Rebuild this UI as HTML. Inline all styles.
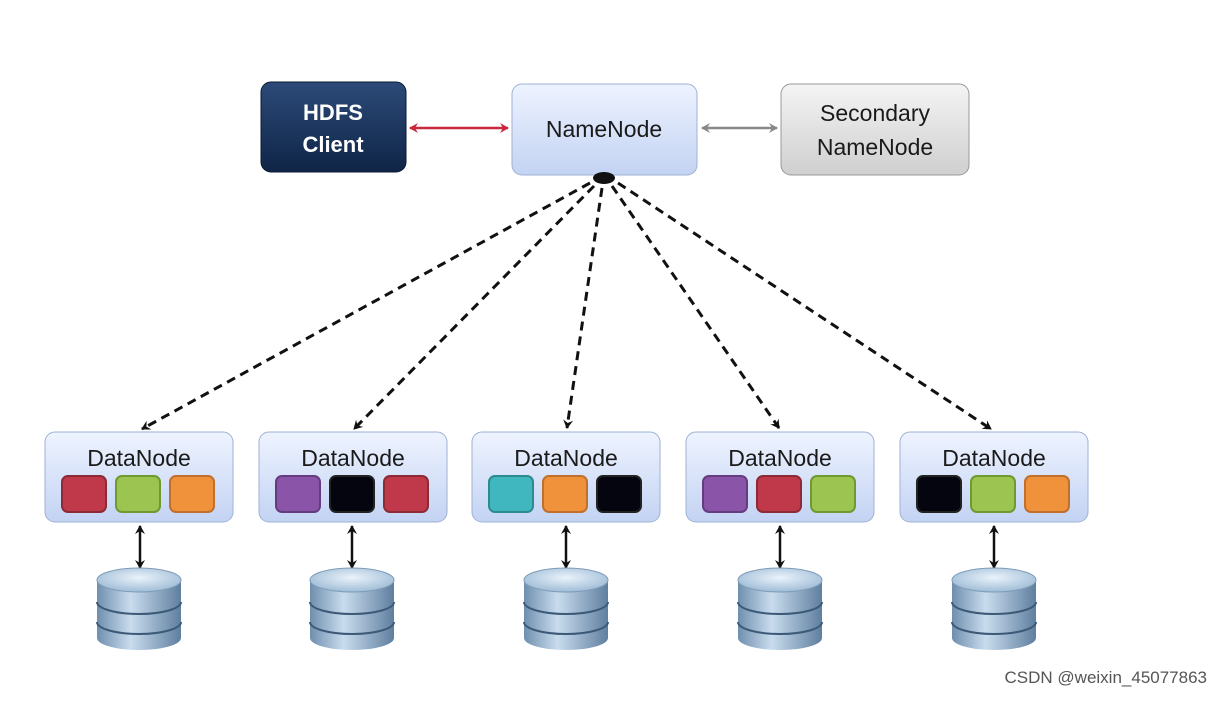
<!DOCTYPE html>
<html><head><meta charset="utf-8"><style>
body{margin:0;background:#fff;width:1221px;height:697px;overflow:hidden;font-family:"Liberation Sans",sans-serif}
</style></head><body>
<svg width="1221" height="697" viewBox="0 0 1221 697" xmlns="http://www.w3.org/2000/svg">
<defs>
<linearGradient id="blue" x1="0" y1="0" x2="0" y2="1"><stop offset="0" stop-color="#eef3ff"/><stop offset="1" stop-color="#c3d3f3"/></linearGradient>
<linearGradient id="dark" x1="0" y1="0" x2="0" y2="1"><stop offset="0" stop-color="#2c4a78"/><stop offset="1" stop-color="#0f2547"/></linearGradient>
<linearGradient id="gray" x1="0" y1="0" x2="0" y2="1"><stop offset="0" stop-color="#f4f4f4"/><stop offset="1" stop-color="#cfcfcf"/></linearGradient>
<linearGradient id="disk" x1="0" y1="0" x2="1" y2="0"><stop offset="0" stop-color="#6f8fae"/><stop offset="0.4" stop-color="#c9dcee"/><stop offset="1" stop-color="#5f7f9f"/></linearGradient>
<radialGradient id="top" cx="0.5" cy="0.4" r="0.6"><stop offset="0" stop-color="#eaf3fb"/><stop offset="1" stop-color="#9fbcd6"/></radialGradient>
<marker id="ak" markerWidth="12" markerHeight="12" refX="9" refY="6" orient="auto-start-reverse" markerUnits="userSpaceOnUse"><path d="M1,1 L10,6 L1,11 L4,6 z" fill="#111"/></marker>
<marker id="ar" markerWidth="12" markerHeight="12" refX="9" refY="6" orient="auto-start-reverse" markerUnits="userSpaceOnUse"><path d="M1,1 L10,6 L1,11 L4,6 z" fill="#c8283a"/></marker>
<marker id="ag" markerWidth="12" markerHeight="12" refX="9" refY="6" orient="auto-start-reverse" markerUnits="userSpaceOnUse"><path d="M1,1 L10,6 L1,11 L4,6 z" fill="#888"/></marker>
<g id="db">
<path d="M-42,10 v58 a42,12 0 0 0 84,0 v-58 z" fill="url(#disk)"/>
<path d="M-42,32 a42,12 0 0 0 84,0 M-42,52 a42,12 0 0 0 84,0" fill="none" stroke="#3c5a78" stroke-width="2"/>
<ellipse cx="0" cy="10" rx="42" ry="12" fill="url(#top)" stroke="#7f9cb8"/>
</g>
</defs>
<rect x="261" y="82" width="145" height="90" rx="10" fill="url(#dark)" stroke="#0a1a33"/>
<text x="333" y="120" text-anchor="middle" font-size="22" font-weight="bold" fill="#fff">HDFS</text>
<text x="333" y="152" text-anchor="middle" font-size="22" font-weight="bold" fill="#fff">Client</text>
<rect x="512" y="84" width="185" height="91" rx="10" fill="url(#blue)" stroke="#9fb2d2"/>
<text x="604" y="137" text-anchor="middle" font-size="23" fill="#1a1a1a">NameNode</text>
<rect x="781" y="84" width="188" height="91" rx="10" fill="url(#gray)" stroke="#999"/>
<text x="875" y="121" text-anchor="middle" font-size="23" fill="#1a1a1a">Secondary</text>
<text x="875" y="155" text-anchor="middle" font-size="23" fill="#1a1a1a">NameNode</text>
<line x1="410" y1="128" x2="508" y2="128" stroke="#c8283a" stroke-width="2.5" marker-start="url(#ar)" marker-end="url(#ar)"/>
<line x1="702" y1="128" x2="777" y2="128" stroke="#888" stroke-width="2.5" marker-start="url(#ag)" marker-end="url(#ag)"/>
<g stroke="#111" stroke-width="3" stroke-dasharray="9,6" fill="none">
<line x1="590" y1="183" x2="142" y2="429" marker-end="url(#ak)"/>
<line x1="594" y1="186" x2="354" y2="429" marker-end="url(#ak)"/>
<line x1="602" y1="188" x2="567" y2="428" marker-end="url(#ak)"/>
<line x1="612" y1="186" x2="779" y2="428" marker-end="url(#ak)"/>
<line x1="618" y1="183" x2="991" y2="429" marker-end="url(#ak)"/>
</g>
<ellipse cx="604" cy="178" rx="11" ry="6" fill="#111"/>
<g id="dn">
<rect x="45" y="432" width="188" height="90" rx="10" fill="url(#blue)" stroke="#9fb2d2"/>
<text x="139" y="466" text-anchor="middle" font-size="23" fill="#1a1a1a">DataNode</text>
</g>
<use href="#dn" x="214"/><use href="#dn" x="427"/><use href="#dn" x="641"/><use href="#dn" x="855"/>
<g stroke-width="2" >
<rect x="62" y="476" width="44" height="36" rx="6" fill="#c0394a" stroke="#8c2a36"/>
<rect x="116" y="476" width="44" height="36" rx="6" fill="#9cc450" stroke="#6e9a30"/>
<rect x="170" y="476" width="44" height="36" rx="6" fill="#f0913c" stroke="#c0702a"/>
<rect x="276" y="476" width="44" height="36" rx="6" fill="#8a55a8" stroke="#653c80"/>
<rect x="330" y="476" width="44" height="36" rx="6" fill="#050510" stroke="#222"/>
<rect x="384" y="476" width="44" height="36" rx="6" fill="#c0394a" stroke="#8c2a36"/>
<rect x="489" y="476" width="44" height="36" rx="6" fill="#40b7bf" stroke="#2c8a90"/>
<rect x="543" y="476" width="44" height="36" rx="6" fill="#f0913c" stroke="#c0702a"/>
<rect x="597" y="476" width="44" height="36" rx="6" fill="#050510" stroke="#222"/>
<rect x="703" y="476" width="44" height="36" rx="6" fill="#8a55a8" stroke="#653c80"/>
<rect x="757" y="476" width="44" height="36" rx="6" fill="#c0394a" stroke="#8c2a36"/>
<rect x="811" y="476" width="44" height="36" rx="6" fill="#9cc450" stroke="#6e9a30"/>
<rect x="917" y="476" width="44" height="36" rx="6" fill="#050510" stroke="#222"/>
<rect x="971" y="476" width="44" height="36" rx="6" fill="#9cc450" stroke="#6e9a30"/>
<rect x="1025" y="476" width="44" height="36" rx="6" fill="#f0913c" stroke="#c0702a"/>
</g>
<g stroke="#111" stroke-width="2.5">
<line x1="140" y1="526" x2="140" y2="568" marker-start="url(#ak)" marker-end="url(#ak)"/>
<line x1="352" y1="526" x2="352" y2="568" marker-start="url(#ak)" marker-end="url(#ak)"/>
<line x1="566" y1="526" x2="566" y2="568" marker-start="url(#ak)" marker-end="url(#ak)"/>
<line x1="780" y1="526" x2="780" y2="568" marker-start="url(#ak)" marker-end="url(#ak)"/>
<line x1="994" y1="526" x2="994" y2="568" marker-start="url(#ak)" marker-end="url(#ak)"/>
</g>
<use href="#db" x="139" y="570"/><use href="#db" x="352" y="570"/><use href="#db" x="566" y="570"/><use href="#db" x="780" y="570"/><use href="#db" x="994" y="570"/>
<text x="1207" y="683" text-anchor="end" font-size="17" fill="#555">CSDN @weixin_45077863</text>
</svg>
</body></html>
